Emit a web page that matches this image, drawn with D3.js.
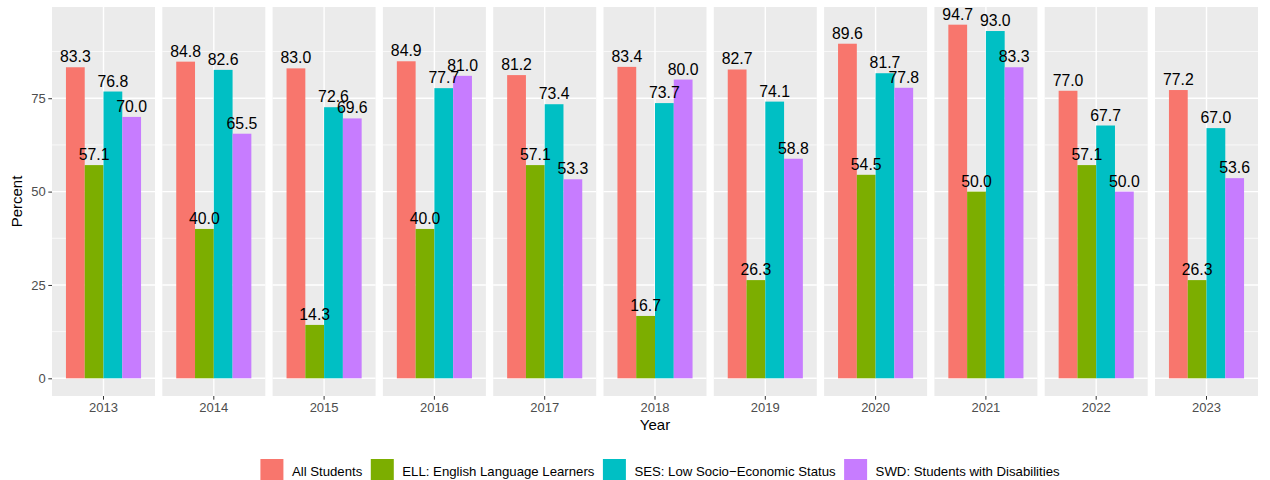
<!DOCTYPE html>
<html>
<head>
<meta charset="utf-8">
<script src="https://cdnjs.cloudflare.com/ajax/libs/d3/7.8.5/d3.min.js"></script>
<style>
    body { margin: 0; background: #ffffff; }
    #chart text { font-family: "Liberation Sans", Arial, sans-serif; }
</style>
</head>
<body>
<div id="chart"></div>
<script>

var years = ["2013", "2014", "2015", "2016", "2017", "2018", "2019", "2020", "2021", "2022", "2023"];
var groups = [
    "All Students",
    "ELL: English Language Learners",
    "SES: Low Socio\u2212Economic Status",
    "SWD: Students with Disabilities"
];
var allStudents = [83.3, 84.8, 83.0, 84.9, 81.2, 83.4, 82.7, 89.6, 94.7, 77.0, 77.2];
var ellValues   = [57.1, 40.0, 14.3, 40.0, 57.1, 16.7, 26.3, 54.5, 50.0, 57.1, 26.3];
var sesValues   = [76.8, 82.6, 72.6, 77.7, 73.4, 73.7, 74.1, 81.7, 93.0, 67.7, 67.0];
var swdValues   = [70.0, 65.5, 69.6, 81.0, 53.3, 80.0, 58.8, 77.8, 83.3, 50.0, 53.6];
var yTicks = [0, 25, 50, 75];
var groupColors = ["#F8766D", "#7CAE00", "#00BFC4", "#C77CFF"];

/**
 * Constructor for the faceted bar chart
 */
function FacetBarChart() {
    var self = this;
    self.init();
};

/**
 * Builds one facet per year, four dodged bars in each
 */
FacetBarChart.prototype.init = function () {
    var self = this;
    var series = [allStudents, ellValues, sesValues, swdValues];

    var rows = years.map(function (y, i) {
        return {
            year: y,
            bars: groups.map(function (g, j) {
                return {group: g, gi: j, value: series[j][i]};
            })
        };
    });

    self.width = 1270;
    self.height = 480;
    var left = 52, right = 1258, top = 7, bottom = 396;

    self.svg = d3.select("#chart").append("svg")
        .attr("width", self.width)
        .attr("height", self.height);

    // facets share one y scale, 5% expansion like ggplot
    var maxVal = d3.max(series, function (s) { return d3.max(s); });
    var span = maxVal - 0;
    var yScale = d3.scaleLinear()
        .domain([0 - span * 0.05, maxVal + span * 0.05])
        .range([bottom, top]);

    var panelScale = d3.scaleBand()
        .domain(years)
        .range([left, right])
        .paddingInner(0.0662);
    var pw = panelScale.bandwidth();

    // within a panel: one discrete x position, expanded 0.6 each side
    var xInner = d3.scaleLinear().domain([0.4, 1.6]).range([0, pw]);
    var dodge = d3.scaleBand().domain(d3.range(groups.length))
        .range([xInner(1 - 0.4375), xInner(1 + 0.4375)]);

    var minorTicks = yTicks.map(function (t) { return t + 12.5; });

    var panels = self.svg.selectAll(".panel")
        .data(rows)
        .enter().append("g")
        .attr("class", "panel")
        .attr("transform", function (d) { return "translate(" + panelScale(d.year) + ",0)"; });

    panels.append("rect")
        .attr("x", 0).attr("y", top)
        .attr("width", pw).attr("height", bottom - top)
        .attr("fill", "#EBEBEB");

    panels.selectAll(".minor")
        .data(minorTicks)
        .enter().append("line")
        .attr("x1", 0).attr("x2", pw)
        .attr("y1", function (d) { return yScale(d); })
        .attr("y2", function (d) { return yScale(d); })
        .attr("stroke", "#ffffff").attr("stroke-width", 0.7);

    panels.selectAll(".major")
        .data(yTicks)
        .enter().append("line")
        .attr("x1", 0).attr("x2", pw)
        .attr("y1", function (d) { return yScale(d); })
        .attr("y2", function (d) { return yScale(d); })
        .attr("stroke", "#ffffff").attr("stroke-width", 1.4);

    panels.append("line")
        .attr("x1", xInner(1)).attr("x2", xInner(1))
        .attr("y1", top).attr("y2", bottom)
        .attr("stroke", "#ffffff").attr("stroke-width", 1.4);

    panels.selectAll(".bar")
        .data(function (d) { return d.bars; })
        .enter().append("rect")
        .attr("x", function (d) { return dodge(d.gi); })
        .attr("width", dodge.bandwidth())
        .attr("y", function (d) { return yScale(d.value); })
        .attr("height", function (d) { return yScale(0) - yScale(d.value); })
        .attr("fill", function (d) { return groupColors[d.gi]; });

    panels.selectAll(".barLabel")
        .data(function (d) { return d.bars; })
        .enter().append("text")
        .attr("x", function (d) { return dodge(d.gi) + dodge.bandwidth() / 2; })
        .attr("y", function (d) { return yScale(d.value) - 5; })
        .attr("text-anchor", "middle")
        .style("font-size", "15.8px")
        .attr("fill", "#000000")
        .text(function (d) { return d.value.toFixed(1); });

    // x ticks and labels under every panel
    panels.append("line")
        .attr("x1", xInner(1)).attr("x2", xInner(1))
        .attr("y1", bottom).attr("y2", bottom + 3.7)
        .attr("stroke", "#333333").attr("stroke-width", 1);

    panels.append("text")
        .attr("x", xInner(1))
        .attr("y", 412)
        .attr("text-anchor", "middle")
        .style("font-size", "13px")
        .attr("fill", "#4D4D4D")
        .text(function (d) { return d.year; });

    // y axis on the left of the first panel
    var yAxis = d3.axisLeft(yScale).tickValues(yTicks).tickSize(3.7).tickPadding(2.5);
    var yg = self.svg.append("g")
        .attr("transform", "translate(" + left + ",0)")
        .call(yAxis);
    yg.select(".domain").remove();
    yg.selectAll(".tick line").attr("stroke", "#333333");
    yg.selectAll(".tick text")
        .attr("fill", "#4D4D4D")
        .style("font-size", "13px")
        .style("font-family", "'Liberation Sans', Arial, sans-serif");

    self.svg.append("text")
        .attr("transform", "translate(21.5," + ((top + bottom) / 2) + ") rotate(-90)")
        .attr("text-anchor", "middle")
        .style("font-size", "15px")
        .attr("fill", "#000000")
        .text("Percent");

    self.svg.append("text")
        .attr("x", (left + right) / 2)
        .attr("y", 430)
        .attr("text-anchor", "middle")
        .style("font-size", "15px")
        .attr("fill", "#000000")
        .text("Year");

    // legend along the bottom
    var legend = self.svg.append("g");
    var items = legend.selectAll(".item")
        .data(groups)
        .enter().append("g");
    items.append("rect")
        .attr("x", 0).attr("y", 459)
        .attr("width", 23).attr("height", 23)
        .attr("fill", function (d, i) { return groupColors[i]; });
    items.append("text")
        .attr("x", 31.5).attr("y", 476)
        .style("font-size", "13.2px")
        .attr("fill", "#000000")
        .text(function (d) { return d; });

    var xpos = 0;
    items.each(function () {
        var g = d3.select(this);
        var tw = g.select("text").node().getComputedTextLength();
        g.attr("transform", "translate(" + xpos + ",0)");
        xpos += 31.5 + tw + 8.5;
    });
    var total = xpos - 8.5;
    legend.attr("transform", "translate(" + (660 - total / 2) + ",0)");
};

new FacetBarChart();
</script>
</body>
</html>
